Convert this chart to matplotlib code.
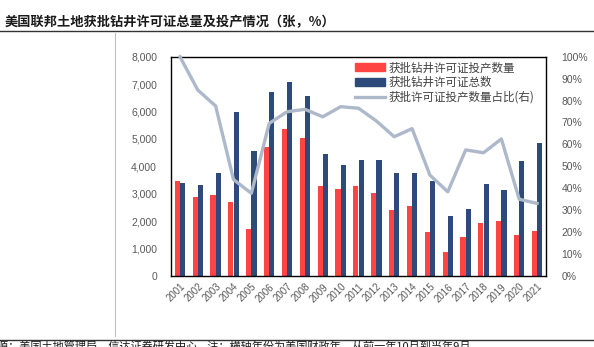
import matplotlib
matplotlib.use("Agg")
import matplotlib.pyplot as plt
import numpy as np
from matplotlib.lines import Line2D

plt.rcParams['font.family'] = ['Noto Sans CJK SC', 'DejaVu Sans']

years = [str(y) for y in range(2001, 2022)]
producing = [3470, 2880, 2950, 2690, 1730, 4690, 5350, 5030, 3270, 3170, 3270,
             3015, 2400, 2560, 1620, 860, 1420, 1930, 1990, 1500, 1640]
total = [3400, 3330, 3760, 6000, 4550, 6700, 7090, 6580, 4450, 4050, 4230,
         4230, 3740, 3740, 3480, 2180, 2460, 3350, 3150, 4190, 4840]
share = [100.0, 84.8, 77.5, 44.0, 37.7, 69.6, 74.9, 76.0, 72.6, 77.2, 76.5,
         70.7, 63.5, 67.2, 46.0, 38.4, 57.5, 56.2, 62.5, 35.0, 33.1]

labels = ['获批钻井许可证投产数量', '获批钻井许可证总数', '获批许可证投产数量占比(右)']
title = '美国联邦土地获批钻井许可证总量及投产情况（张，%）'
footer = '源：美国土地管理局，信达证券研发中心    注：横轴年份为美国财政年，从前一年10月到当年9月'

W, H = 594, 347
fig = plt.figure(figsize=(W / 100, H / 100), dpi=100)

red = '#FF4444'
navy = '#2E4A7A'
lgray = '#ADB9CA'
tick_color = '#595959'

ax = fig.add_axes([171 / W, 1 - 276 / H, (546 - 171) / W, (276 - 56.7) / H])
x = np.arange(len(years))
bw = 0.29
ax.bar(x - bw / 2, producing, width=bw, color=red, zorder=2)
ax.bar(x + bw / 2, total, width=bw, color=navy, zorder=2)
ax.set_xlim(-0.5, len(years) - 0.5)
ax.set_ylim(0, 8000)
ax.set_yticks(range(0, 8001, 1000))
ax.set_yticklabels([f'{v:,}' for v in range(0, 8001, 1000)], fontsize=7.5,
                   color=tick_color, family=['Liberation Sans'])
ax.tick_params(axis='y', length=0, pad=10)
ax.set_xticks(x)
ax.set_xticklabels(years, rotation=45, ha='right', rotation_mode='anchor',
                   fontsize=7, color=tick_color, family=['Liberation Sans'])
ax.tick_params(axis='x', length=0, pad=4)
for s in ax.spines.values():
    s.set_color('black')
    s.set_linewidth(1.0)

ax2 = ax.twinx()
ax2.plot(x, share, color=lgray, linewidth=2.4, zorder=3, clip_on=False)
ax2.set_ylim(0, 100)
ax2.set_yticks(range(0, 101, 10))
ax2.set_yticklabels([f'{v}%' for v in range(0, 101, 10)], fontsize=7.5,
                    color=tick_color, family=['Liberation Sans'])
ax2.tick_params(axis='y', length=0, pad=11)
for s in ax2.spines.values():
    s.set_visible(False)

handles = [plt.Rectangle((0, 0), 1, 1, color=red),
           plt.Rectangle((0, 0), 1, 1, color=navy),
           Line2D([0], [0], color=lgray, linewidth=2.4)]
leg = ax.legend(handles, labels, loc='upper left', bbox_to_anchor=(0.47, 1.015),
                frameon=False, fontsize=8.3, handlelength=2.6, handleheight=0.7,
                handletextpad=0.3, labelspacing=0.15, borderaxespad=0.3)
for t in leg.get_texts():
    t.set_color('#404040')

# title, rules, separator
fig.text(5 / W, 1 - 21.7 / H, title, fontsize=9.5, fontweight='bold',
         color='#1a1a1a', va='center', ha='left')
fig.add_artist(Line2D([0, 1], [1 - 30.7 / H] * 2, color='#333333', linewidth=1.0))
fig.add_artist(Line2D([115 / W] * 2, [1 - 33 / H, 1 - 336 / H], color='#BFBFBF', linewidth=0.8))
fig.add_artist(Line2D([0, 1], [1 - 340 / H] * 2, color='#333333', linewidth=1.0))
fig.text(-3 / W, 1 - 342 / H, footer, fontsize=8, color='#1a1a1a', va='top', ha='left')

fig.savefig('out.png', dpi=100)
